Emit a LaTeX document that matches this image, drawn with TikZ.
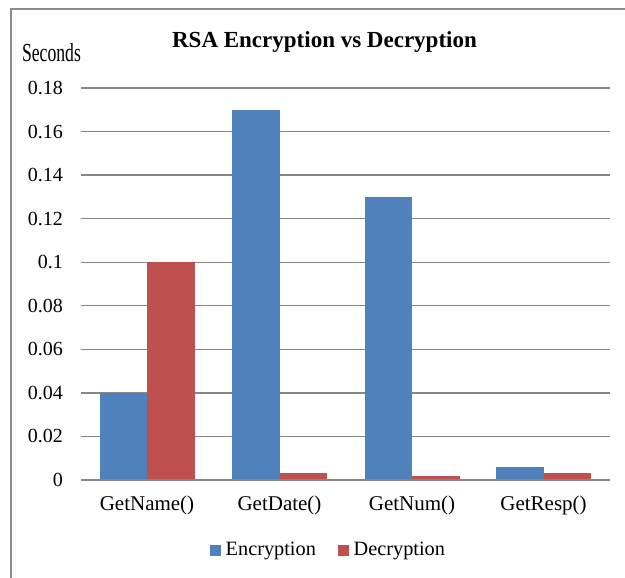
\documentclass[tikz,border=0pt]{standalone}
\usepackage{fontspec}
\setmainfont{Liberation Serif}
\usepackage{graphicx}
\definecolor{encblue}{HTML}{4F81BD}
\definecolor{decred}{HTML}{C0504D}
\definecolor{gridgray}{HTML}{868686}
\definecolor{framegray}{HTML}{8C8C8C}
\begin{document}
\begin{tikzpicture}[x=1pt,y=-1pt,
  gridline/.style={draw=gridgray,line width=1.3pt},
  tick/.style={anchor=east,font=\fontsize{20}{20}\selectfont,inner sep=0pt},
  catlabel/.style={anchor=center,font=\fontsize{21}{21}\selectfont,inner sep=0pt},
  encbar/.style={fill=encblue,draw=none},
  decbar/.style={fill=decred,draw=none},
  legtext/.style={anchor=west,font=\fontsize{20.3}{20}\selectfont,inner sep=0pt}]
\useasboundingbox (0,0) rectangle (625,578);
\fill[white] (0,0) rectangle (625,578);
% outer frame
\draw[draw=framegray,line width=2pt] (11,578) -- (11,9.5) -- (625,9.5);
% title and axis caption
\node[font=\fontsize{23}{23}\selectfont\bfseries,inner sep=0pt] (title) at (324.5,42) {RSA Encryption vs Decryption};
\node[inner sep=0pt] (ylabel) at (51.5,53) {\scalebox{0.68}[1]{\fontsize{26}{26}\selectfont Seconds}};
% gridlines and tick labels: 0.02 s = 43.56 px, zero at y = 480
\foreach \v/\t [count=\i from 0] in {0/0,0.02/0.02,0.04/0.04,0.06/0.06,0.08/0.08,0.1/0.1,0.12/0.12,0.14/0.14,0.16/0.16,0.18/0.18}{
  \pgfmathsetmacro{\yy}{480-\i*43.56}
  \draw[gridline] (81,\yy) -- (610,\yy);
  \node[tick] (tick\i) at (63,\yy) {\t};
}
% bars: group centre c, bar width 47.5
\foreach \c/\e/\d/\n [count=\k] in {147/0.04/0.1/GetName(),279.5/0.17/0.003/GetDate(),412/0.13/0.002/GetNum(),543.5/0.006/0.003/GetResp()}{
  \pgfmathsetmacro{\ye}{480-\e*2178}
  \pgfmathsetmacro{\yd}{480-\d*2178}
  \fill[encbar] (\c-47.5,480) rectangle (\c,\ye);
  \fill[decbar] (\c,480) rectangle (\c+47.5,\yd);
  \node[catlabel] (cat\k) at (\c,505) {\n};
}
\draw[gridline] (81,480) -- (610,480);
% legend
\fill[encblue] (210,545) rectangle (221,556);
\node[legtext] (legenc) at (225.5,551) {Encryption};
\fill[decred] (338,545) rectangle (349,556);
\node[legtext] (legdec) at (353.5,551) {Decryption};
\end{tikzpicture}
\end{document}
